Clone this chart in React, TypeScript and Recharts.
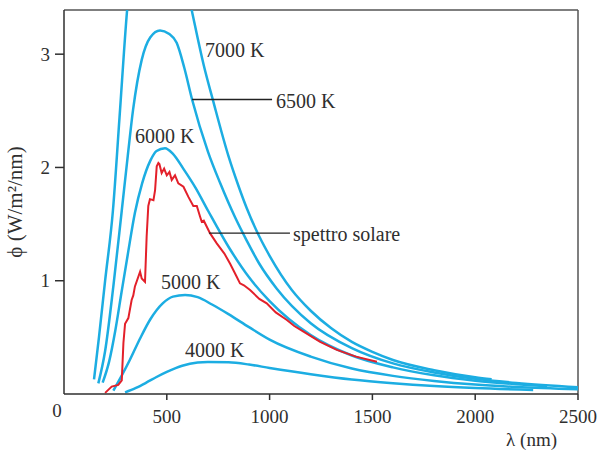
import { LineChart, Line, XAxis, YAxis, ReferenceLine, ReferenceDot, Label } from "recharts";

const xTicks = [500, 1000, 1500, 2000, 2500];
const yTicks = [1, 2, 3];
const yMax = 3.39;

const lambda7000 = [146, 170, 200, 238, 270, 307, 350, 400, 450, 500, 550, 621, 680, 725, 800, 850, 889, 950, 1000, 1108, 1200, 1300, 1400, 1500, 1600, 1800, 2000, 2080];
const phi7000 = [0.13, 0.5, 1.0, 1.62, 2.44, 3.39, 4.1, 4.55, 4.6, 4.45, 4.0, 3.39, 2.9, 2.59, 2.1, 1.83, 1.64, 1.39, 1.22, 0.918, 0.735, 0.58, 0.46, 0.372, 0.3, 0.21, 0.148, 0.13];

const lambda6500 = [167, 200, 240, 281, 310, 336, 378, 420, 467, 510, 548, 585, 623, 700, 760, 832, 890, 950, 1035, 1200, 1400, 1600, 1800, 2000, 2200, 2500];
const phi6500 = [0.094, 0.38, 0.95, 1.62, 2.1, 2.51, 2.95, 3.15, 3.21, 3.18, 3.1, 2.88, 2.6, 2.14, 1.86, 1.56, 1.35, 1.15, 0.93, 0.625, 0.405, 0.27, 0.19, 0.135, 0.098, 0.06];

const lambda6000 = [188, 220, 250, 280, 310, 345, 380, 420, 450, 491, 530, 580, 640, 700, 800, 900, 1000, 1200, 1400, 1600, 1800, 2000, 2200, 2350];
const phi6000 = [0.1, 0.29, 0.565, 0.9, 1.23, 1.6, 1.86, 2.06, 2.145, 2.17, 2.12, 1.99, 1.82, 1.62, 1.3, 1.03, 0.82, 0.52, 0.34, 0.235, 0.165, 0.118, 0.086, 0.068];

const lambda5000 = [240, 280, 320, 370, 420, 480, 530, 589, 650, 720, 800, 900, 1000, 1200, 1400, 1600, 1800, 2000, 2200, 2500];
const phi5000 = [0.03, 0.16, 0.3, 0.49, 0.66, 0.8, 0.86, 0.875, 0.855, 0.79, 0.705, 0.59, 0.48, 0.33, 0.225, 0.16, 0.115, 0.083, 0.062, 0.042];

const lambda4000 = [297, 350, 400, 450, 500, 575, 650, 700, 800, 900, 1000, 1200, 1400, 1600, 1800, 2000, 2282];
const phi4000 = [0.015, 0.054, 0.1, 0.15, 0.195, 0.25, 0.278, 0.283, 0.28, 0.26, 0.23, 0.175, 0.128, 0.095, 0.07, 0.052, 0.035];

// spettro solare (red, jagged)
const lambdaSun = [200, 232, 264, 281, 289, 297, 313, 329, 337, 345, 370, 378, 394, 402, 410, 418, 435, 443, 451, 459, 464, 475, 487, 500, 513, 524, 540, 556, 581, 605, 629, 646, 662, 670, 680, 710, 743, 780, 808, 840, 856, 875, 905, 950, 986, 1030, 1084, 1120, 1165, 1246, 1327, 1420, 1522];
const phiSun = [0.01, 0.065, 0.08, 0.12, 0.45, 0.62, 0.67, 0.83, 0.87, 0.95, 1.08, 1.02, 0.99, 1.39, 1.66, 1.72, 1.71, 1.8, 2.01, 2.04, 2.03, 1.95, 1.99, 1.93, 1.96, 1.89, 1.93, 1.86, 1.83, 1.74, 1.66, 1.66, 1.565, 1.52, 1.53, 1.42, 1.33, 1.24, 1.15, 1.035, 0.977, 0.96, 0.918, 0.84, 0.8, 0.72, 0.653, 0.6, 0.55, 0.46, 0.39, 0.33, 0.285];

const curveLabels = [
  { text: "7000 K", x: 686, y: 3.04 },
  { text: "6500 K", x: 1031, y: 2.59 },
  { text: "6000 K", x: 345, y: 2.28 },
  { text: "spettro solare", x: 1114, y: 1.41 },
  { text: "5000 K", x: 472, y: 0.99 },
  { text: "4000 K", x: 589, y: 0.39 },
];

const pointers = [
  { from: 623, to: 1012, y: 2.6 },
  { from: 705, to: 1099, y: 1.42 },
];

const BLUE = "#1cade2";
const RED = "#e3202a";
const INK = "#2f2f2f";
const FONT = "'Liberation Serif', 'DejaVu Serif', serif";

const zip = (xs: number[], ys: number[]) => xs.map((x, i) => ({ x, y: ys[i] }));

const blackbody = [
  { name: "7000 K", data: zip(lambda7000, phi7000) },
  { name: "6500 K", data: zip(lambda6500, phi6500) },
  { name: "6000 K", data: zip(lambda6000, phi6000) },
  { name: "5000 K", data: zip(lambda5000, phi5000) },
  { name: "4000 K", data: zip(lambda4000, phi4000) },
];
const sun = zip(lambdaSun, phiSun);

function YTitle({ viewBox }: any) {
  const cx = viewBox.x + 22;
  const cy = viewBox.y + viewBox.height / 2;
  return (
    <text x={cx} y={cy} transform={`rotate(-90, ${cx}, ${cy})`} textAnchor="middle" fill={INK} fontSize={21} fontFamily={FONT}>
      ϕ (W/m²/nm)
    </text>
  );
}

function XTitle({ viewBox }: any) {
  return (
    <text x={viewBox.x + viewBox.width - 21} y={viewBox.y + 52} textAnchor="end" fill={INK} fontSize={19} fontFamily={FONT}>
      λ (nm)
    </text>
  );
}

function Zero({ viewBox }: any) {
  return (
    <text x={viewBox.x - 7} y={viewBox.y + 23} textAnchor="middle" fill={INK} fontSize={19} fontFamily={FONT}>
      0
    </text>
  );
}

export default function App() {
  return (
    <div style={{ position: "absolute", left: 0, top: 0, width: 599, height: 450, overflow: "hidden", background: "#fff", fontFamily: FONT }}>
      <LineChart width={599} height={450} margin={{ top: 10, right: 21, bottom: 0, left: 0 }}>
        <XAxis
          type="number"
          dataKey="x"
          domain={[0, 2500]}
          ticks={xTicks}
          height={56}
          stroke={INK}
          strokeWidth={1.5}
          tickSize={6}
          tickMargin={10}
          tick={{ fill: INK, fontSize: 19, fontFamily: FONT }}
        >
          <Label content={XTitle} />
          <Label content={Zero} />
        </XAxis>
        <YAxis
          type="number"
          domain={[0, yMax]}
          allowDataOverflow
          ticks={yTicks}
          width={64}
          stroke={INK}
          strokeWidth={1.5}
          tickSize={9}
          tickMargin={5}
          tick={{ fill: INK, fontSize: 19, fontFamily: FONT }}
        >
          <Label content={YTitle} />
        </YAxis>
        <ReferenceLine y={yMax} stroke="#555" strokeWidth={1.5} />
        <ReferenceLine x={2500} stroke="#555" strokeWidth={1.5} />
        {blackbody.map((s) => (
          <Line
            key={s.name}
            data={s.data}
            dataKey="y"
            type="monotone"
            stroke={BLUE}
            strokeWidth={2.5}
            dot={false}
            isAnimationActive={false}
          />
        ))}
        <Line data={sun} dataKey="y" type="linear" stroke={RED} strokeWidth={2} dot={false} isAnimationActive={false} />
        {pointers.map((p, i) => (
          <ReferenceLine
            key={i}
            segment={[{ x: p.from, y: p.y }, { x: p.to, y: p.y }]}
            stroke="#222"
            strokeWidth={1.3}
          />
        ))}
        {curveLabels.map((l) => (
          <ReferenceDot
            key={l.text}
            x={l.x}
            y={l.y}
            r={0}
            fill="none"
            stroke="none"
            label={{ value: l.text, position: "right", offset: 0, fill: INK, fontSize: 20, fontFamily: FONT }}
          />
        ))}
      </LineChart>
    </div>
  );
}
